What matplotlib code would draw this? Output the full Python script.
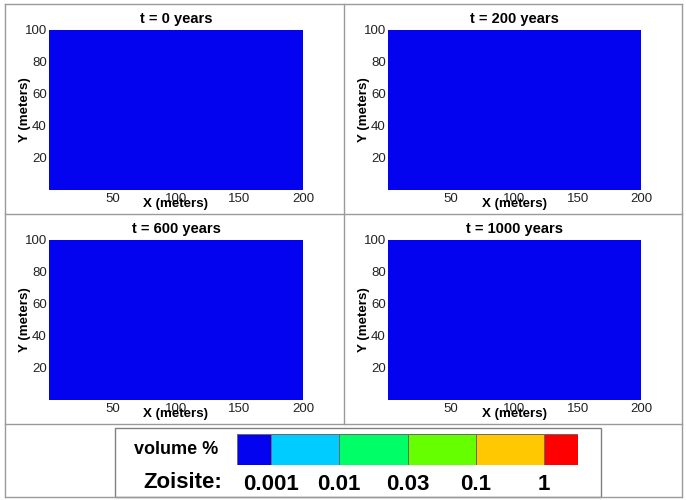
import numpy as np
import matplotlib
matplotlib.use("Agg")
import matplotlib.pyplot as plt
from matplotlib.colors import ListedColormap, BoundaryNorm
from matplotlib.patches import Rectangle
from matplotlib.lines import Line2D

plt.rcParams['font.family'] = ['Liberation Sans', 'DejaVu Sans']

# ---- data ----
panel_titles = ["t = 0 years", "t = 200 years", "t = 600 years", "t = 1000 years"]
# zoisite volume % everywhere in the 200 m x 100 m domain (all below 0.001)
panel_values = [0.0, 0.0, 0.0, 0.0]
x_extent = [0, 200]
y_extent = [0, 100]
n_cells_x, n_cells_y = 20, 10
x_ticks = [50, 100, 150, 200]
y_ticks = [20, 40, 60, 80, 100]

class_bounds = [0.0, 0.001, 0.01, 0.03, 0.1, 1.0, 100.0]
class_colors = ['#0303F0', '#00CCFF', '#00FF66', '#66FF00', '#FFC800', '#FF0000']
legend_labels = ["0.001", "0.01", "0.03", "0.1", "1"]
legend_edges = [0, 0.5, 1.5, 2.5, 3.5, 4.5, 5.0]

cmap = ListedColormap(class_colors)
norm = BoundaryNorm(class_bounds, cmap.N)

W, H = 686, 500
fig = plt.figure(figsize=(W / 100, H / 100), dpi=100)


def fx(px):
    return px / W


def fy(py):
    return 1 - py / H


# panel borders
border_c = '#9a9a9a'
for (x0, y0, x1, y1) in [(5, 4, 682, 4), (5, 497, 682, 497), (5, 4, 5, 497),
                         (682, 4, 682, 497), (5, 214, 682, 214), (5, 424, 682, 424),
                         (344, 4, 344, 424)]:
    fig.add_artist(Line2D([fx(x0), fx(x1)], [fy(y0), fy(y1)], color=border_c, lw=1.0))

axes_px = [(49, 303, 30, 190), (388, 641, 30, 190), (49, 303, 240, 400), (388, 641, 240, 400)]

xe = np.linspace(x_extent[0], x_extent[1], n_cells_x + 1)
ye = np.linspace(y_extent[0], y_extent[1], n_cells_y + 1)

for (l, r, t, b), title, val in zip(axes_px, panel_titles, panel_values):
    ax = fig.add_axes([fx(l), fy(b), fx(r) - fx(l), fy(t) - fy(b)])
    field = np.full((n_cells_y, n_cells_x), val)
    ax.pcolormesh(xe, ye, field, cmap=cmap, norm=norm, shading='flat')
    ax.set_xlim(x_extent)
    ax.set_ylim(y_extent)
    ax.set_xticks(x_ticks)
    ax.set_yticks(y_ticks)
    ax.tick_params(length=0, labelsize=9.5, pad=2.5, colors='#222222')
    ax.tick_params(axis='y', pad=1.5)
    for s in ax.spines.values():
        s.set_visible(False)
    hpx = b - t
    wpx = r - l
    ax.text(0.5, 1 + 10.5 / hpx, title, transform=ax.transAxes, ha='center',
            va='center', fontsize=10.5, fontweight='bold')
    ax.text(0.5, -13.5 / hpx, "X (meters)", transform=ax.transAxes, ha='center',
            va='center', fontsize=9.6, fontweight='bold')
    ax.text(-24.5 / wpx, 0.5, "Y (meters)", transform=ax.transAxes, ha='center',
            va='center', fontsize=9.6, fontweight='bold', rotation=90)

# legend box
fig.add_artist(Rectangle((fx(115), fy(497)), fx(601) - fx(115), fy(428) - fy(497),
                         transform=fig.transFigure, fill=False, edgecolor='#808080', lw=1.0))

cax = fig.add_axes([fx(237), fy(465), fx(578) - fx(237), fy(434) - fy(465)])
class_values = [[class_bounds[i] for i in range(len(class_colors))]]
cax.pcolormesh(legend_edges, [0, 1], class_values, cmap=cmap, norm=norm,
               edgecolors='#6a6a6a', linewidth=0.6)
cax.set_xlim(legend_edges[0], legend_edges[-1])
cax.set_ylim(0, 1)
cax.set_xticks([])
cax.set_yticks([])
for s in cax.spines.values():
    s.set_visible(False)

for xpos, lab in zip(legend_edges[1:-1], legend_labels):
    cax.text(xpos, -(484 - 465) / 31, lab, transform=cax.get_xaxis_transform(),
             ha='center', va='center', fontsize=16, fontweight='bold')

fig.text(fx(176.5), fy(449), "volume %", ha='center', va='center', fontsize=13,
         fontweight='bold')
fig.text(fx(182.5), fy(483), "Zoisite:", ha='center', va='center', fontsize=16,
         fontweight='bold')

fig.savefig("out.png", dpi=100)
